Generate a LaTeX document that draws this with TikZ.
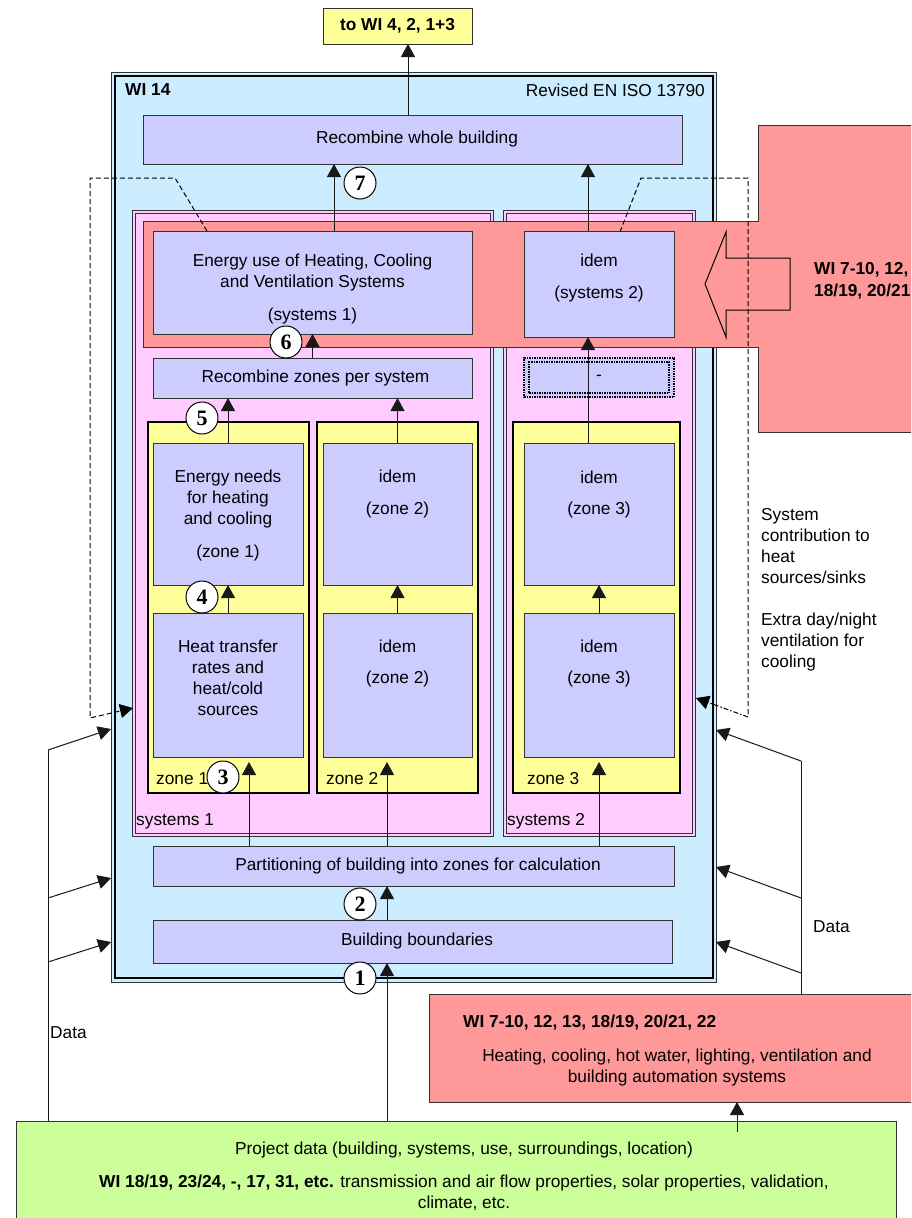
\documentclass[tikz,border=0pt]{standalone}
\usepackage{fontspec}
\setmainfont{Liberation Sans}
\newfontfamily\numfont{Liberation Serif}
\usetikzlibrary{arrows.meta}
\definecolor{wiblue}{HTML}{CCECFF}
\definecolor{procblue}{HTML}{CCCCFF}
\definecolor{syspink}{HTML}{FFCCFF}
\definecolor{salmon}{HTML}{FF9999}
\definecolor{zoneyel}{HTML}{FFFF99}
\definecolor{datagreen}{HTML}{CCFF99}
% box from corner (x1,y1) to corner (x2,y2)
\newcommand\mybox[7]{%
  \node[#1,minimum width={(#5-#3)*1pt},minimum height={(#6-#4)*1pt}] (#2) at ({(#3+#5)/2},{(#4+#6)/2}) {#7};}
\begin{document}
\begin{tikzpicture}[x=1pt,y=-1pt,
  every node/.style={font=\fontsize{17.3}{21}\selectfont},
  box/.style={rectangle,draw=black!80,line width=1pt,inner sep=0pt,outer sep=0pt},
  proc/.style={box,fill=procblue},
  zonebox/.style={rectangle,draw=black,line width=2.5pt,fill=zoneyel,inner sep=0pt,outer sep=0pt},
  txt/.style={inner sep=0pt,align=center,anchor=north},
  ltxt/.style={inner sep=0pt,anchor=west},
  tip/.style={-{Triangle[length=13pt,width=14pt]}},
  arr/.style={tip,line width=1pt,draw=black!90},
  dsh/.style={line width=1pt,draw=black,dash pattern=on 5pt off 3pt},
  num/.style={circle,draw=black,line width=1pt,fill=white,minimum size=32pt,inner sep=0pt,
    font=\numfont\bfseries\fontsize{22}{22}\selectfont}]
\useasboundingbox (0,0) rectangle (911,1218);
\clip (0,0) rectangle (911,1218);
\fill[white] (0,0) rectangle (911,1218);

% WI 14 frame (double border)
\mybox{box,fill=wiblue,line width=1pt}{wi}{111}{72}{716}{982}{}
\mybox{box,draw=black,line width=1.6pt}{wiin}{115}{76}{713}{978}{}
\node[ltxt,font=\bfseries\fontsize{17.3}{21}\selectfont] (witit) at (125,90) {WI 14};
\node[inner sep=0pt,anchor=east] (wiiso) at (705,90) {Revised EN ISO 13790};

% output box
\mybox{box,fill=zoneyel}{towi}{323}{8}{472}{44}{\bfseries to WI 4, 2, 1+3}
\mybox{proc}{whole}{143}{115}{682}{164}{\hspace{9pt}Recombine whole building}

% systems frames
\mybox{box,fill=syspink,line width=1pt}{sys1}{132}{210}{493}{836}{}
\mybox{box,line width=1pt}{sys1in}{135}{213}{490}{833}{}
\mybox{box,fill=syspink,line width=1pt}{sys2}{503}{210}{695}{836}{}
\mybox{box,line width=1pt}{sys2in}{506}{213}{692}{833}{}
\node[ltxt] (sys1lab) at (136,821) {systems 1};
\node[ltxt] (sys2lab) at (507,821) {systems 2};

% systems band and its source
\path[fill=salmon,draw=black!80,line width=1pt]
  (143,221) -- (758,221) -- (758,125) -- (930,125) -- (930,432) -- (758,432)
  -- (758,347) -- (143,347) -- cycle;
\path[fill=salmon,draw=black,line width=1pt]
  (705,284) -- (726,232) -- (726,258) -- (790,258) -- (790,310) -- (726,310)
  -- (726,337) -- cycle;
\node[inner sep=0pt,anchor=north west,align=left,font=\bfseries\fontsize{17.3}{22}\selectfont]
  (wisys) at (814,262) {WI 7-10, 12,\\18/19, 20/21};

% system level
\mybox{proc}{energy1}{153}{231}{472}{334}{}
\node[txt] (energy1t) at (312.5,253.5) {Energy use of Heating, Cooling\\and Ventilation Systems\\[12pt](systems 1)};
\mybox{proc}{idem2}{524}{231}{674}{337}{}
\node[txt] (idem2t) at (599,253.5) {idem\\[11pt](systems 2)};
\mybox{proc}{rzones}{153}{358}{472}{398}{\hspace{6pt}Recombine zones per system}
\mybox{rectangle,fill=procblue,inner sep=0pt,outer sep=0pt,draw=black,line width=1.1pt,
  dash pattern=on 1.5pt off 1pt}{nozone}{524}{358}{674}{397}{-}
\mybox{rectangle,inner sep=0pt,outer sep=0pt,draw=black,line width=1.1pt,
  dash pattern=on 1.5pt off 1pt}{nozonein}{529}{362}{669}{393}{}

% zones
\mybox{zonebox}{zone1}{148}{422}{309}{793}{}
\mybox{zonebox}{zone2}{317}{422}{478}{793}{}
\mybox{zonebox}{zone3}{513}{422}{680}{793}{}
\node[ltxt] (z1lab) at (156,779) {zone 1};
\node[ltxt] (z2lab) at (326,779) {zone 2};
\node[ltxt] (z3lab) at (527,779) {zone 3};

\mybox{proc}{needs1}{153}{443}{303}{585}{}
\node[txt] (needs1t) at (228,469.5) {Energy needs\\for heating\\and cooling\\[12pt](zone 1)};
\mybox{proc}{idz2a}{323}{443}{472}{585}{}
\node[txt] (idz2at) at (397.5,469.5) {idem\\[11pt](zone 2)};
\mybox{proc}{idz3a}{524}{443}{674}{585}{}
\node[txt] (idz3at) at (599,470.5) {idem\\[10pt](zone 3)};

\mybox{proc}{heat1}{153}{613}{303}{757}{}
\node[txt] (heat1t) at (228,639.5) {Heat transfer\\rates and\\heat/cold\\sources};
\mybox{proc}{idz2b}{323}{613}{472}{757}{}
\node[txt] (idz2bt) at (397.5,639.5) {idem\\[10pt](zone 2)};
\mybox{proc}{idz3b}{524}{613}{674}{757}{}
\node[txt] (idz3bt) at (599,639.5) {idem\\[10pt](zone 3)};

% building level
\mybox{proc}{part}{153}{846}{674}{886}{\hspace{9pt}Partitioning of building into zones for calculation}
\mybox{proc}{bound}{153}{920}{672}{963}{\hspace{9pt}Building boundaries}

% external systems and project data
\mybox{box,fill=salmon}{extsys}{429}{994}{930}{1102}{}
\node[ltxt,font=\bfseries\fontsize{17.3}{21}\selectfont] (extsyst) at (463,1023) {WI 7-10, 12, 13, 18/19, 20/21, 22};
\node[txt] (extsysd) at (677,1048.5) {Heating, cooling, hot water, lighting, ventilation and\\building automation systems};
\mybox{box,fill=datagreen}{proj}{16}{1121}{896}{1240}{}
\node[txt] (projt) at (464,1141.5) {Project data (building, systems, use, surroundings, location)\\[12pt]%
  \textbf{WI 18/19, 23/24, -, 17, 31, etc.} transmission and air flow properties, solar properties, validation,\\climate, etc.};

% column positions of connectors
\coordinate (cx408) at (408,0);
\coordinate (cx334) at (334,0);
\coordinate (cx588) at (588,0);
\coordinate (cx249) at (249,0);
\coordinate (cx387) at (387,0);

% flow arrows
\draw[arr] (whole.north -| cx408) -- (towi.south -| cx408);
\draw[arr] (energy1.north -| cx334) -- (whole.south -| cx334);
\draw[arr] (idem2.north -| cx588) -- (whole.south -| cx588);
\draw[arr] (rzones.north -| energy1.south) -- (energy1.south);
\draw[arr] (idz3a.north -| cx588) -- (idem2.south -| cx588);
\draw[arr] (needs1.north) -- (rzones.south -| needs1.north);
\draw[arr] (idz2a.north) -- (rzones.south -| idz2a.north);
\draw[arr] (heat1.north) -- (needs1.south);
\draw[arr] (idz2b.north) -- (idz2a.south);
\draw[arr] (idz3b.north) -- (idz3a.south);
\draw[arr,shorten >=5pt] (part.north -| cx249) -- (heat1.south -| cx249);
\draw[arr,shorten >=5pt] (part.north -| cx387) -- (idz2b.south -| cx387);
\draw[arr,shorten >=5pt] (part.north -| idz3b.south) -- (idz3b.south);
\draw[arr] (bound.north -| cx387) -- (part.south -| cx387);
\draw[arr] (proj.north -| cx387) -- (bound.south -| cx387);
\coordinate (pj737) at (737,1132);
\draw[arr] (pj737) -- (extsys.south -| pj737);

% step numbers
\node[num] (n7) at (360,183) {7};
\node[num] (n6) at (286,342) {6};
\node[num] (n5) at (202,418) {5};
\node[num] (n4) at (202,597) {4};
\node[num] (n3) at (223,777) {3};
\node[num] (n2) at (360,904) {2};
\node[num] (n1) at (360,978) {1};

% feedback from the systems to the zones
\coordinate (fbL1) at (207,231);
\coordinate (fbL2) at (175,178);
\coordinate (fbL3) at (90,178);
\coordinate (fbL4) at (90,718);
\coordinate (fbLt) at (133,708);
\draw[dsh,tip] (fbL1) -- (fbL2) -- (fbL3) -- (fbL4) -- (fbLt);
\coordinate (fbR1) at (620,232);
\coordinate (fbR2) at (641,178);
\coordinate (fbR3) at (748,178);
\coordinate (fbR4) at (748,717);
\coordinate (fbRt) at (696,698);
\draw[dsh] (fbR1) -- (fbR2) -- (fbR3) -- (fbR4);
\draw[line width=1pt,draw=black,dash pattern=on 5pt off 2pt on 1.5pt off 2pt,tip] (fbR4) -- (fbRt);
\node[inner sep=0pt,anchor=north west,align=left] (fbtext) at (761,508.5)
  {System\\contribution to\\heat\\sources/sinks\\[21pt]Extra day/night\\ventilation for\\cooling};

% data inputs, left
\coordinate (dl0) at (48,1121);
\coordinate (dl1) at (48,750);
\coordinate (dl2) at (48,898);
\coordinate (dl3) at (48,962);
\coordinate (tl1) at (111,729);
\coordinate (tl2) at (111,878);
\coordinate (tl3) at (111,942);
\draw[line width=1pt,black!90] (dl0) -- (dl1);
\draw[arr] (dl1) -- (tl1);
\draw[arr] (dl2) -- (tl2);
\draw[arr] (dl3) -- (tl3);
\node[ltxt] (dataL) at (50,1033) {Data};

% data inputs, right
\coordinate (dr0) at (801,994);
\coordinate (dr1) at (801,761);
\coordinate (dr2) at (801,898);
\coordinate (dr3) at (801,973);
\coordinate (tr1) at (716,730);
\coordinate (tr2) at (716,867);
\coordinate (tr3) at (716,942);
\draw[line width=1pt,black!90] (dr0) -- (dr1);
\draw[arr] (dr1) -- (tr1);
\draw[arr] (dr2) -- (tr2);
\draw[arr] (dr3) -- (tr3);
\node[ltxt] (dataR) at (813,927) {Data};
\end{tikzpicture}
\end{document}
